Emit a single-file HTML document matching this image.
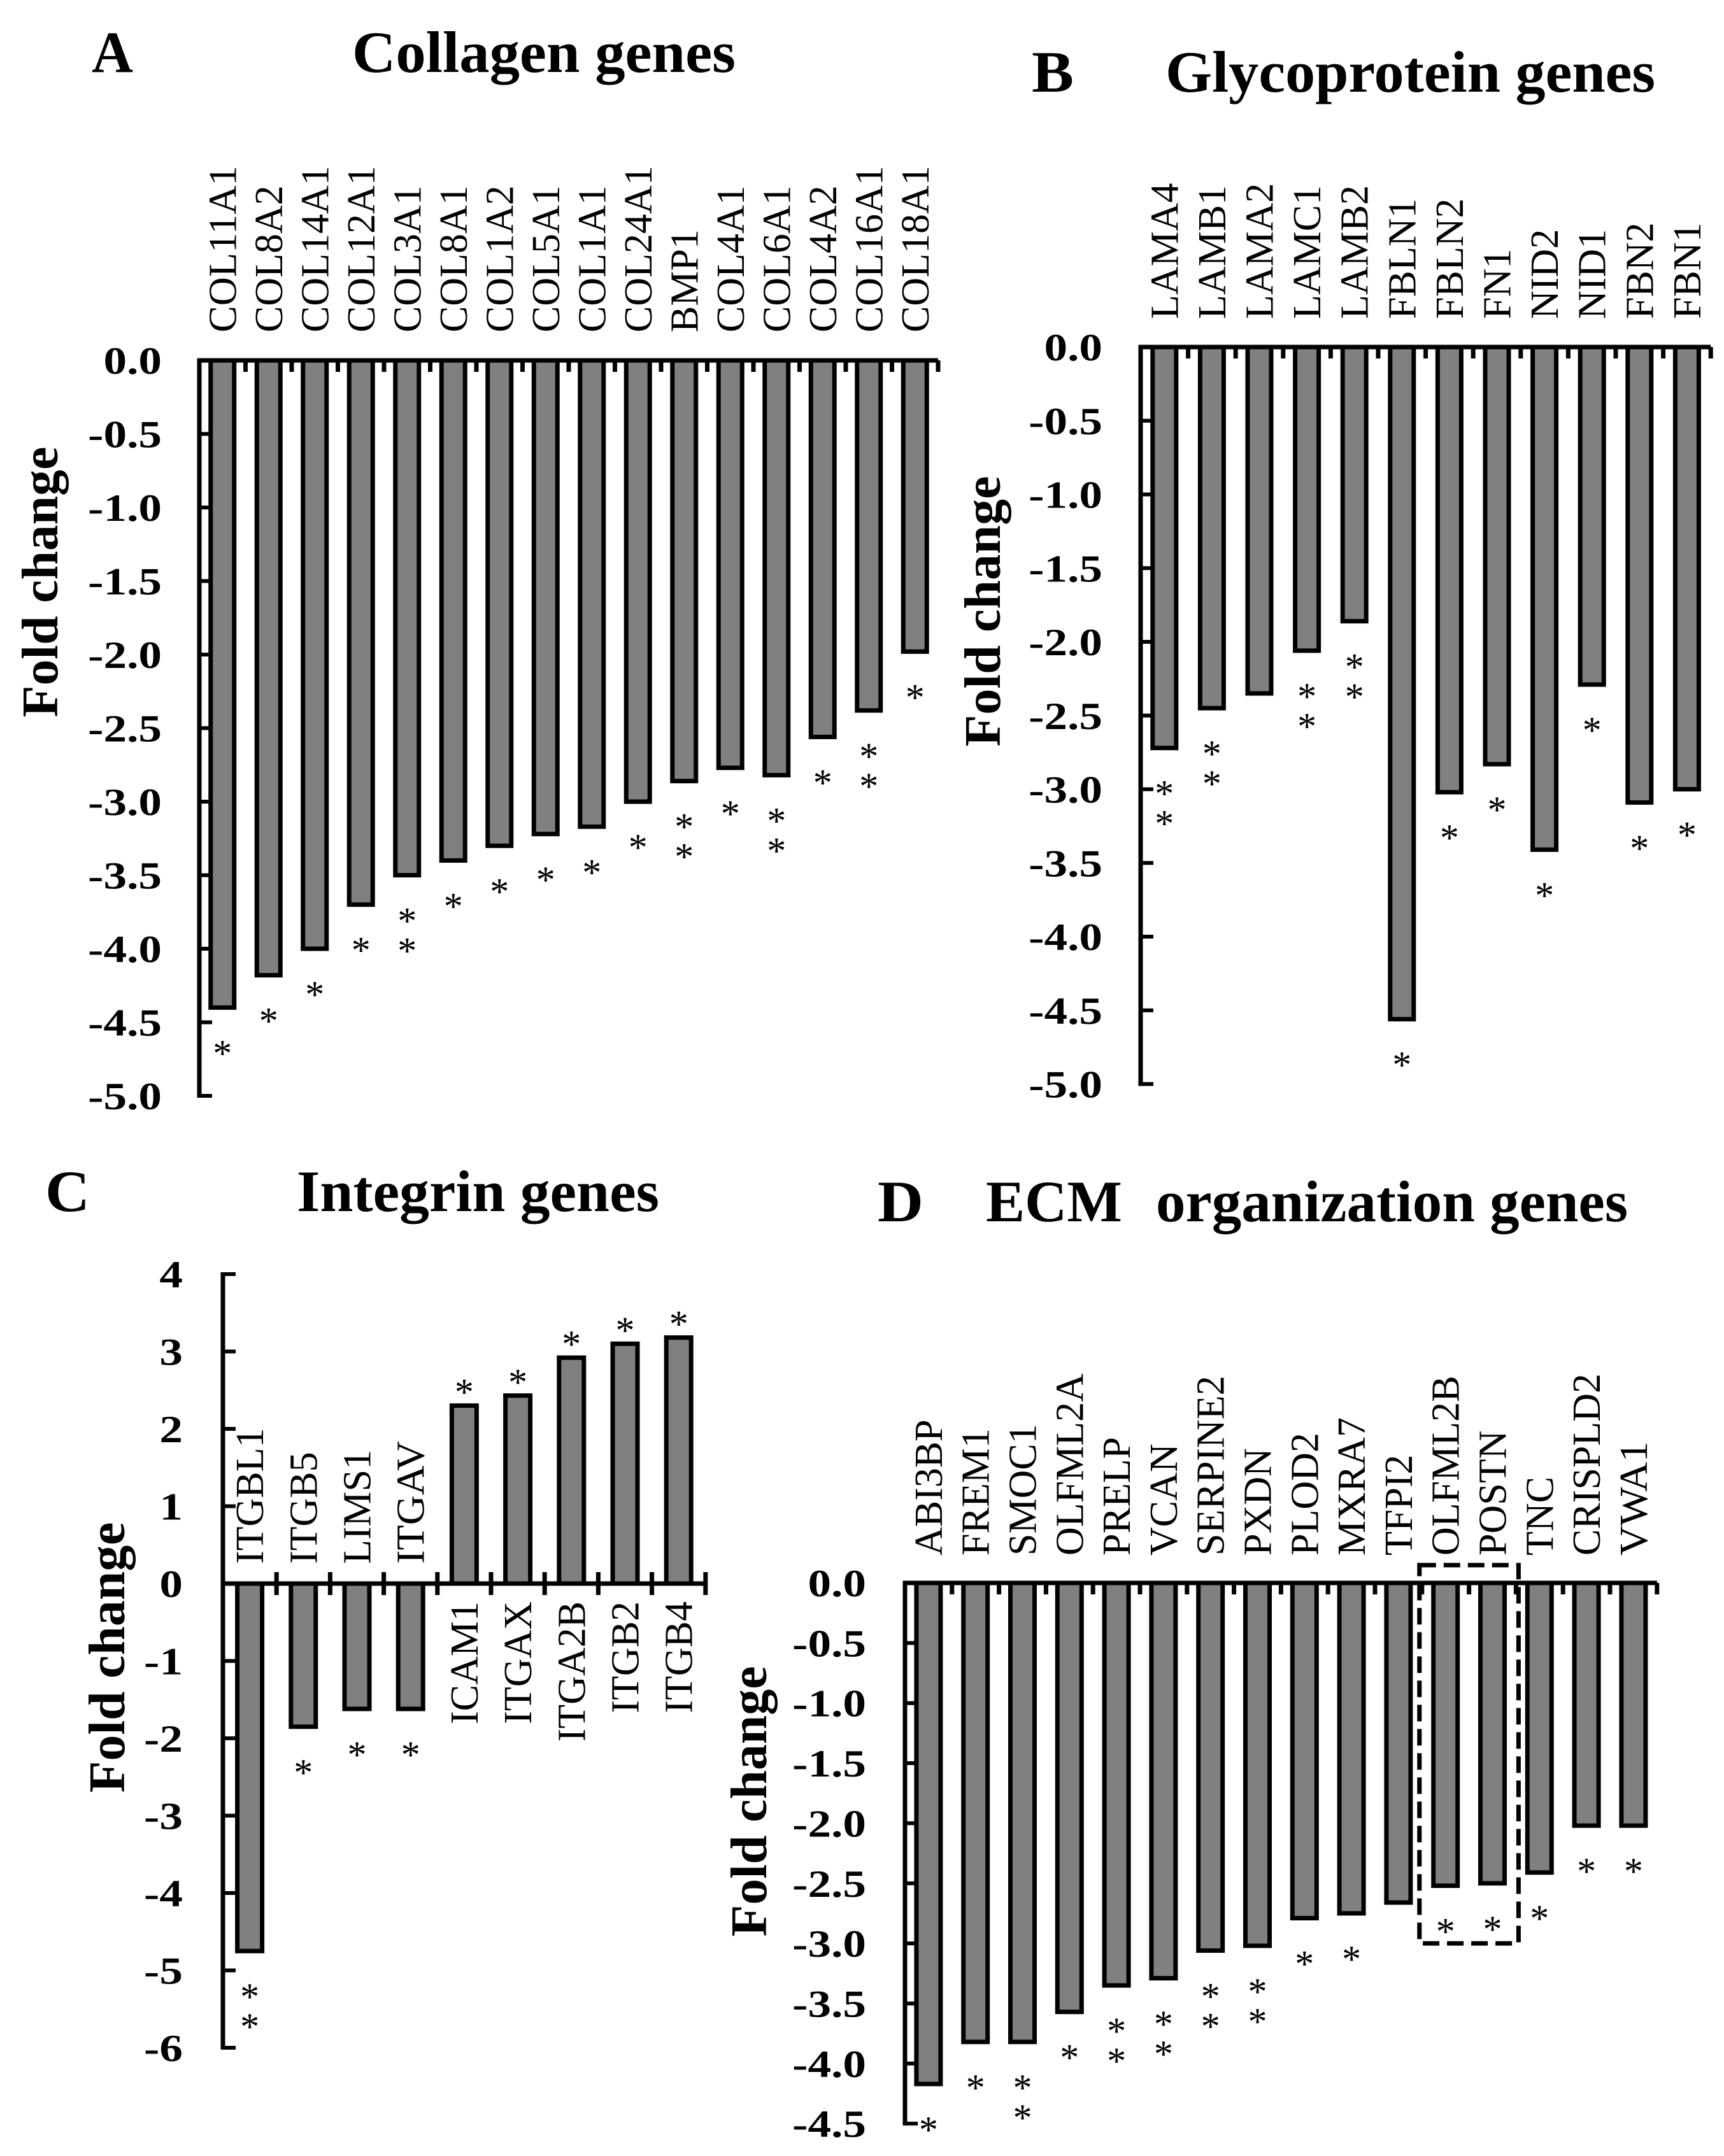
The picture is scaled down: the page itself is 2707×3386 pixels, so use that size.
<!DOCTYPE html>
<html><head><meta charset="utf-8"><style>
html,body{margin:0;padding:0;background:#fff}
svg{display:block}
text{font-family:"Liberation Serif","Times New Roman",serif;fill:#000}
</style></head><body>
<svg id="fig" width="2707" height="3386" viewBox="0 0 2707 3386" xmlns="http://www.w3.org/2000/svg">
<g>
<text x="144" y="113" font-size="92" font-weight="bold" textLength="65" lengthAdjust="spacingAndGlyphs">A</text>
<text x="553" y="113" font-size="92" font-weight="bold" textLength="602" lengthAdjust="spacingAndGlyphs">Collagen genes</text>
</g>
<g>
<text x="1620" y="144" font-size="92" font-weight="bold" textLength="66" lengthAdjust="spacingAndGlyphs">B</text>
<text x="1830" y="144" font-size="92" font-weight="bold" textLength="769" lengthAdjust="spacingAndGlyphs">Glycoprotein genes</text>
</g>
<g>
<text x="71" y="1902" font-size="92" font-weight="bold" textLength="70" lengthAdjust="spacingAndGlyphs">C</text>
<text x="466" y="1902" font-size="92" font-weight="bold" textLength="569" lengthAdjust="spacingAndGlyphs">Integrin genes</text>
</g>
<g>
<text x="1378" y="1918" font-size="92" font-weight="bold" textLength="72" lengthAdjust="spacingAndGlyphs">D</text>
<text x="1548" y="1918" font-size="92" font-weight="bold" textLength="214" lengthAdjust="spacingAndGlyphs">ECM</text>
<text x="1815" y="1918" font-size="92" font-weight="bold" textLength="741" lengthAdjust="spacingAndGlyphs">organization genes</text>
</g>
</svg>
<script>
// Panel A data
const genesA = ["COL11A1","COL8A2","COL14A1","COL12A1","COL3A1","COL8A1","COL1A2","COL5A1","COL1A1","COL24A1","BMP1","COL4A1","COL6A1","COL4A2","COL16A1","COL18A1"];
const valuesA = [-4.4,-4.18,-4.0,-3.7,-3.5,-3.4,-3.3,-3.22,-3.17,-3.0,-2.86,-2.77,-2.82,-2.56,-2.38,-1.98];
const starsA = [1,1,1,1,2,1,1,1,1,1,2,1,2,1,2,1];
const ticksA = [0,-0.5,-1,-1.5,-2,-2.5,-3,-3.5,-4,-4.5,-5];
const tickLabelsA = ["0.0","-0.5","-1.0","-1.5","-2.0","-2.5","-3.0","-3.5","-4.0","-4.5","-5.0"];
// Panel B data
const genesB = ["LAMA4","LAMB1","LAMA2","LAMC1","LAMB2","FBLN1","FBLN2","FN1","NID2","NID1","FBN2","FBN1"];
const valuesB = [-2.72,-2.45,-2.35,-2.06,-1.86,-4.56,-3.02,-2.83,-3.41,-2.29,-3.09,-3.0];
const starsB = [2,2,0,2,2,1,1,1,1,1,1,1];
const ticksB = [0,-0.5,-1,-1.5,-2,-2.5,-3,-3.5,-4,-4.5,-5];
const tickLabelsB = ["0.0","-0.5","-1.0","-1.5","-2.0","-2.5","-3.0","-3.5","-4.0","-4.5","-5.0"];
// Panel C data
const genesC = ["ITGBL1","ITGB5","LIMS1","ITGAV","ICAM1","ITGAX","ITGA2B","ITGB2","ITGB4"];
const valuesC = [-4.75,-1.85,-1.62,-1.62,2.3,2.43,2.92,3.1,3.18];
const starsC = [2,1,1,1,1,1,1,1,1];
const ticksC = [4,3,2,1,0,-1,-2,-3,-4,-5,-6];
const tickLabelsC = ["4","3","2","1","0","-1","-2","-3","-4","-5","-6"];
// Panel D data
const genesD = ["ABI3BP","FREM1","SMOC1","OLFML2A","PRELP","VCAN","SERPINE2","PXDN","PLOD2","MXRA7","TFPI2","OLFML2B","POSTN","TNC","CRISPLD2","VWA1"];
const valuesD = [-4.17,-3.82,-3.82,-3.57,-3.35,-3.29,-3.06,-3.02,-2.79,-2.75,-2.66,-2.52,-2.5,-2.41,-2.02,-2.02];
const starsD = [1,1,2,1,2,2,2,2,1,1,0,1,1,1,1,1];
const ticksD = [0,-0.5,-1,-1.5,-2,-2.5,-3,-3.5,-4,-4.5];
const tickLabelsD = ["0.0","-0.5","-1.0","-1.5","-2.0","-2.5","-3.0","-3.5","-4.0","-4.5"];

// Times-like advance widths (em) used to size labels
const W = {A:.722,B:.667,C:.667,D:.722,E:.611,F:.556,G:.722,H:.722,I:.333,K:.722,L:.611,M:.889,N:.722,O:.722,P:.556,R:.667,S:.556,T:.611,V:.722,W:.944,X:.722,'0':.5,'1':.5,'2':.5,'3':.5,'4':.5,'5':.5,'6':.5,'7':.5,'8':.5,'9':.5,'-':.333,'.':.25};
function emWidth(s){ let w=0; for (const ch of s) w += (W[ch]||.55); return w; }

const NS = "http://www.w3.org/2000/svg";
const svg = document.getElementById('fig');
function mk(tag, attrs, parent){
  const e = document.createElementNS(NS, tag);
  for (const k in attrs) e.setAttribute(k, attrs[k]);
  parent.appendChild(e);
  return e;
}

function drawPanel(p){
  const g = mk('g', {}, svg);
  
  
  const y = v => p.zeroY - v * p.pxPerUnit;
  const slotX = i => p.axisX + p.slot * i;
  const n = p.genes.length;
  const axisRight = p.axisX + p.slot * n;
  const yMin = p.ticks[p.ticks.length - 1];
  const yMax = p.ticks[0];
  const ya = mk('line', {x1:p.axisX, y1:y(yMax)-3, x2:p.axisX, y2:y(yMin)+3, stroke:'#000','stroke-width':7}, g);
  
  
  p.ticks.forEach((t, i) => {
    const tk = mk('line', {x1:p.axisX, y1:y(t), x2:p.axisX + 20, y2:y(t), stroke:'#000','stroke-width':6}, g);
    
    
    const lx = p.axisX - p.labelGap;
    const lbl = p.tickLabels[i];
    const tl = mk('text', {x:lx, y:y(t) + 21, 'font-size':60, 'font-weight':'bold', 'text-anchor':'end',
      textLength:(emWidth(lbl) * 60 * 1.22).toFixed(1), lengthAdjust:'spacingAndGlyphs'}, g);
    tl.textContent = lbl;
    
    
  });
  p.genes.forEach((name, i) => {
    const cx = slotX(i) + p.slot / 2;
    const v = p.values[i];
    const top = Math.min(y(0), y(v)), bot = Math.max(y(0), y(v));
    const r = mk('rect', {x:cx - p.barW/2 + 3.5, y:top, width:p.barW - 7, height:bot - top, fill:'#808080', stroke:'#000','stroke-width':7}, g);
    
    
    const tlen = (emWidth(name) * 62).toFixed(1);
    let anchor = 'start', ly = p.labelY;
    if (p.id === 'panel-c') {
      if (v < 0) { ly = p.negLabelY; } else { anchor = 'end'; ly = p.posLabelY; }
    }
    const lt = mk('text', {x:0, y:0, 'font-size':62, 'text-anchor':anchor, textLength:tlen, lengthAdjust:'spacingAndGlyphs',
      transform:'translate(' + (cx + 21) + ',' + ly + ') rotate(-90)'}, g);
    lt.textContent = name;
    
    
    for (let s = 0; s < p.stars[i]; s++) {
      let cy;
      if (v < 0) cy = y(v) + (s === 0 ? 58 : 105);
      else cy = y(v) - 35 - s * 45;
      const st = mk('text', {x:cx, y:cy + 34, 'font-size':60, 'text-anchor':'middle'}, g);
      st.textContent = '*';
      
      
    }
  });
  const xa = mk('line', {x1:p.axisX - 3, y1:y(0), x2:axisRight, y2:y(0), stroke:'#000','stroke-width':7}, g);
  
  
  for (let i = 1; i <= n; i++) {
    const x = slotX(i);
    const tk = p.id === 'panel-c'
      ? mk('line', {x1:x, y1:y(0) - 18, x2:x, y2:y(0) + 18, stroke:'#000','stroke-width':7}, g)
      : mk('line', {x1:x, y1:y(0), x2:x, y2:y(0) + 18, stroke:'#000','stroke-width':7}, g);
    
    
  }
  const yt = mk('text', {x:0, y:0, 'font-size':80, 'font-weight':'bold', 'text-anchor':'middle', textLength:425, lengthAdjust:'spacingAndGlyphs',
    transform:'translate(' + (p.titleX + 27) + ',' + p.titleY + ') rotate(-90)'}, g);
  yt.textContent = 'Fold change';
  
  
  return {y, slotX};
}

drawPanel({id:'panel-a', genes:genesA, values:valuesA, stars:starsA, ticks:ticksA, tickLabels:tickLabelsA,
  axisX:313, zeroY:566, pxPerUnit:231, slot:72.5, barW:44, labelY:522, labelGap:59, titleX:63, titleY:914});
drawPanel({id:'panel-b', genes:genesB, values:valuesB, stars:starsB, ticks:ticksB, tickLabels:tickLabelsB,
  axisX:1791, zeroY:545, pxPerUnit:231.5, slot:74.6, barW:44, labelY:501, labelGap:60, titleX:1543, titleY:960});
drawPanel({id:'panel-c', genes:genesC, values:valuesC, stars:starsC, ticks:ticksC, tickLabels:tickLabelsC,
  axisX:350, zeroY:2487, pxPerUnit:121.5, slot:84.2, barW:46, negLabelY:2456, posLabelY:2515, labelGap:63, titleX:168, titleY:2603});
const pd = drawPanel({id:'panel-d', genes:genesD, values:valuesD, stars:starsD, ticks:ticksD, tickLabels:tickLabelsD,
  axisX:1421, zeroY:2486, pxPerUnit:188.7, slot:73.8, barW:45, labelY:2443, labelGap:61, titleX:1176, titleY:2829});

const box = mk('rect', {x:pd.slotX(11) - 4, y:pd.y(0) - 28, width:73.8 * 2 + 8, height:pd.y(-3.0) - pd.y(0) + 28,
  fill:'none', stroke:'#000', 'stroke-width':7, 'stroke-dasharray':'26 12'}, svg);


</script>
</body></html>
